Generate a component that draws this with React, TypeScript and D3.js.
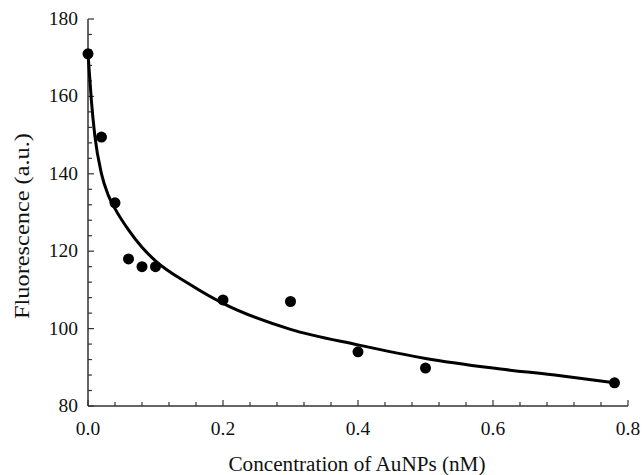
import React from "react";
import * as d3 from "d3";

const pointX = [0, 0.02, 0.04, 0.06, 0.08, 0.1, 0.2, 0.3, 0.4, 0.5, 0.78];
const pointY = [171, 149.5, 132.5, 118, 116, 116, 107.4, 107, 94, 89.8, 86];

const fitX = [0, 0.005, 0.01, 0.02, 0.03, 0.04, 0.06, 0.08, 0.1, 0.15, 0.2, 0.3, 0.4, 0.5, 0.6, 0.7, 0.78];
const fitY = [171, 159, 150, 140, 134.5, 131, 125.5, 121, 117.5, 111.5, 106.5, 99.8, 95.8, 92.3, 89.8, 87.8, 86];

const xMajorTicks = [0, 0.2, 0.4, 0.6, 0.8];
const yMajorTicks = [80, 100, 120, 140, 160, 180];

const W = 643;
const H = 475;
const FONT = "'Liberation Serif', 'Times New Roman', serif";

export default function App() {
  const x = d3.scaleLinear().domain([0, 0.8]).range([88, 628]);
  const y = d3.scaleLinear().domain([80, 180]).range([406, 19]);

  const xMinor = d3.range(0, 0.8001, 0.04);
  const yMinor = d3.range(80, 180.001, 4);

  const line = d3
    .line<number>()
    .x((_, i) => x(fitX[i]))
    .y((d) => y(d))
    .curve(d3.curveMonotoneX);

  const axisColor = "#333";

  return (
    <svg
      width={W}
      height={H}
      style={{ position: "absolute", left: 0, top: 0, background: "#fff" }}
    >
      {/* axes */}
      <line x1={x(0)} x2={x(0.8)} y1={y(80)} y2={y(80)} stroke={axisColor} strokeWidth={1.5} />
      <line x1={x(0)} x2={x(0)} y1={y(80)} y2={y(180)} stroke={axisColor} strokeWidth={1.5} />
      {xMinor.map((t, i) => {
        const major = xMajorTicks.some((m) => Math.abs(m - t) < 1e-6);
        return (
          <line
            key={"xm" + i}
            x1={x(t)}
            x2={x(t)}
            y1={y(80)}
            y2={y(80) - (major ? 6 : 4)}
            stroke={axisColor}
            strokeWidth={1.2}
          />
        );
      })}
      {yMinor.map((t, i) => {
        const major = yMajorTicks.some((m) => Math.abs(m - t) < 1e-6);
        return (
          <line
            key={"ym" + i}
            x1={x(0)}
            x2={x(0) + (major ? 6 : 4)}
            y1={y(t)}
            y2={y(t)}
            stroke={axisColor}
            strokeWidth={1.2}
          />
        );
      })}
      {xMajorTicks.map((t) => (
        <text
          key={"xl" + t}
          x={x(t)}
          y={435}
          textAnchor="middle"
          fontFamily={FONT}
          fontSize={19.5}
          fill="#111"
        >
          {t.toFixed(1)}
        </text>
      ))}
      {yMajorTicks.map((t) => (
        <text
          key={"yl" + t}
          x={78}
          y={y(t) + 6}
          textAnchor="end"
          fontFamily={FONT}
          fontSize={19.5}
          fill="#111"
        >
          {t}
        </text>
      ))}
      <text
        x={357}
        y={471}
        textAnchor="middle"
        fontFamily={FONT}
        fontSize={20.5}
        textLength={257}
        lengthAdjust="spacingAndGlyphs"
        fill="#111"
      >
        Concentration of AuNPs (nM)
      </text>
      <text
        transform={`translate(29, 226) rotate(-90)`}
        textAnchor="middle"
        fontFamily={FONT}
        fontSize={20}
        textLength={186}
        lengthAdjust="spacingAndGlyphs"
        fill="#111"
      >
        Fluorescence (a.u.)
      </text>
      {/* fit curve */}
      <path d={line(fitY) || ""} fill="none" stroke="#000" strokeWidth={3} />
      {/* points */}
      {pointX.map((px, i) => (
        <circle key={"p" + i} cx={x(px)} cy={y(pointY[i])} r={5.5} fill="#000" />
      ))}
    </svg>
  );
}
